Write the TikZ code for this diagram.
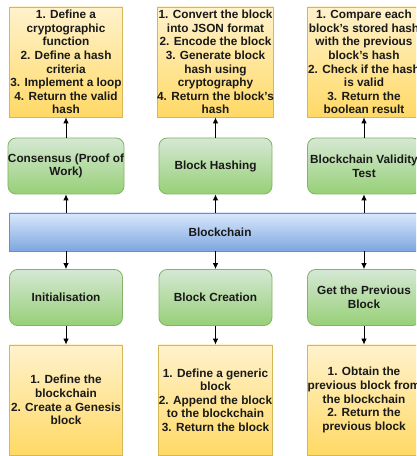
\documentclass[tikz,border=0pt]{standalone}
\usepackage{fontspec}
\setmainfont{Liberation Sans}
\usetikzlibrary{arrows.meta}

\definecolor{yellowtop}{HTML}{FFF2CC}
\definecolor{yellowbot}{HTML}{FFD966}
\definecolor{yellowline}{HTML}{D6B656}
\definecolor{greentop}{HTML}{D5E8D4}
\definecolor{greenbot}{HTML}{97D077}
\definecolor{greenline}{HTML}{82B366}
\definecolor{bluetop}{HTML}{DAE8FC}
\definecolor{bluebot}{HTML}{7EA6E0}
\definecolor{blueline}{HTML}{6C8EBF}

\begin{document}
\begin{tikzpicture}[x=1pt,y=1pt,
    every node/.style={font=\bfseries\fontsize{11.8}{13.6}\selectfont,
      text=black!90, align=center, inner sep=0pt},
    steps/.style={draw=yellowline, top color=yellowtop, bottom color=yellowbot,
      line width=0.8pt, minimum width=113, minimum height=110},
    task/.style={draw=greenline, top color=greentop, bottom color=greenbot,
      line width=0.8pt, rounded corners=8pt, minimum width=113, minimum height=56},
    chain/.style={draw=blueline, top color=bluetop, bottom color=bluebot,
      line width=0.8pt, minimum width=421, minimum height=38},
    link/.style={-{Latex[length=6pt,width=5.5pt]}, line width=0.8pt}]

  \useasboundingbox (0,0) rectangle (416,456);
  \clip (0,0) rectangle (416,456);

  % the chain itself
  \node[chain] (bc) at (220,224) {Blockchain};

  % functions above the chain
  \node[task] (consensus) at (66,290) {Consensus (Proof of\\Work)};
  \node[task] (hashing)   at (215.5,290) {Block Hashing};
  \node[task] (validity)  at (364,290) {Blockchain Validity\\Test};

  \node[steps] (consensusSteps) at (66,394)
    {1. Define a\\cryptographic\\function\\2. Define a hash\\criteria\\3. Implement a loop\\4. Return the valid\\hash};
  \node[steps] (hashingSteps) at (215.5,394)
    {1. Convert the block\\into JSON format\\2. Encode the block\\3. Generate block\\hash using\\cryptography\\4. Return the block's\\hash};
  \node[steps] (validitySteps) at (364,394)
    {1. Compare each\\block's stored hash\\with the previous\\block's hash\\2. Check if the hash\\is valid\\3. Return the\\boolean result};

  % functions below the chain
  \node[task] (init)     at (66,158.5) {Initialisation};
  \node[task] (creation) at (215.5,158.5) {Block Creation};
  \node[task] (previous) at (364,158.5) {Get the Previous\\Block};

  \node[steps] (initSteps) at (66,56)
    {1. Define the\\blockchain\\2. Create a Genesis\\block};
  \node[steps] (creationSteps) at (215.5,56)
    {1. Define a generic\\block\\2. Append the block\\to the blockchain\\3. Return the block};
  \node[steps] (previousSteps) at (364,56)
    {1. Obtain the\\previous block from\\the blockchain\\2. Return the\\previous block};

  % arrows up
  \foreach \f in {consensus,hashing,validity}{
    \draw[link] (\f.south |- bc.north) -- (\f.south);
    \draw[link] (\f.north) -- (\f Steps.south);
  }

  % arrows down
  \foreach \f in {init,creation,previous}{
    \draw[link] (\f.north |- bc.south) -- (\f.north);
    \draw[link] (\f.south) -- (\f Steps.north);
  }

\end{tikzpicture}
\end{document}
